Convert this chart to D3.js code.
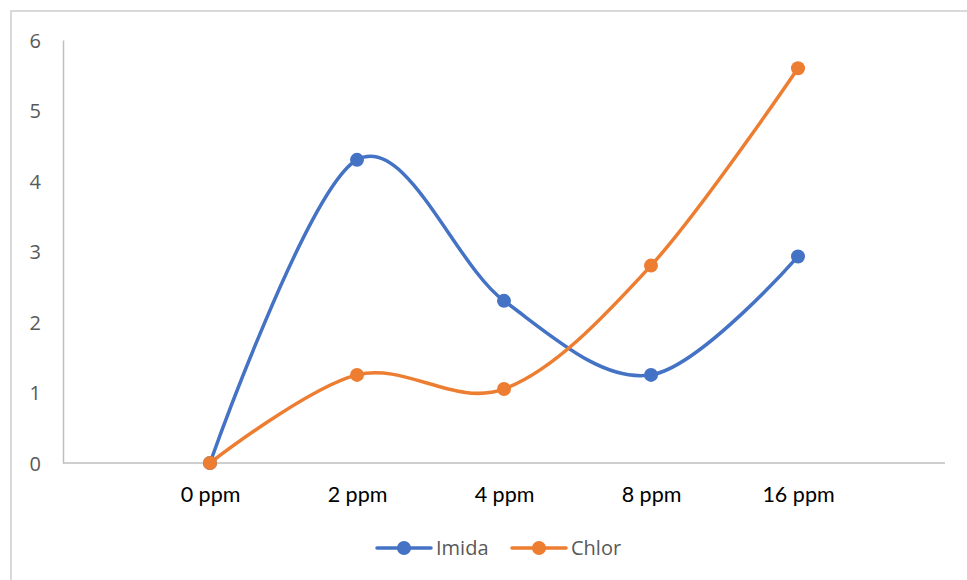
<!DOCTYPE html>
<html>
<head>
<meta charset="utf-8">
<script src="https://cdn.jsdelivr.net/npm/d3@7"></script>
<style>
  html, body { margin: 0; padding: 0; background: #fff; }
  svg { display: block; }
</style>
</head>
<body>
<svg id="chart" width="967" height="580"></svg>
<script>
// Concentrations on the category axis
const categories = ["0 ppm", "2 ppm", "4 ppm", "8 ppm", "16 ppm"];
// Series values per concentration
const imida = [0, 4.3, 2.3, 1.25, 2.93];
const chlor = [0, 1.25, 1.05, 2.8, 5.6];
// Value axis ticks
const yTicks = [0, 1, 2, 3, 4, 5, 6];

const seriesNames = ["Imida", "Chlor"];
const seriesColors = ["#4472C4", "#ED7D31"];
const series = [imida, chlor].map((vals, i) => ({
  name: seriesNames[i],
  color: seriesColors[i],
  points: vals.map((v, j) => ({ cat: categories[j], value: v }))
}));

const svg = d3.select("#chart");

// Chart area frame
svg.append("rect")
  .attr("x", 11).attr("y", 11)
  .attr("width", 980).attr("height", 600)
  .attr("fill", "none")
  .attr("stroke", "#d9d9d9")
  .attr("stroke-width", 2);

const plot = { left: 63, right: 945, top: 40, bottom: 463 };

const x = d3.scalePoint()
  .domain(categories)
  .range([plot.left, plot.right])
  .padding(1);

const y = d3.scaleLinear()
  .domain([0, 6])
  .range([plot.bottom, plot.top]);

// Value axis
const yAxis = d3.axisLeft(y).tickValues(yTicks).tickSize(0).tickPadding(22).tickFormat(d3.format("d"));
const yG = svg.append("g")
  .attr("transform", `translate(${plot.left},0)`)
  .call(yAxis);
yG.select(".domain").attr("stroke", "#bfbfbf").attr("stroke-width", 1.5);
yG.selectAll("text")
  .attr("fill", "#595959")
  .style("font-family", "'Open Sans', sans-serif")
  .style("font-size", "20px")
  .attr("dy", "0.36em");

// Category axis
const xAxis = d3.axisBottom(x).tickSize(0).tickPadding(24);
const xG = svg.append("g")
  .attr("transform", `translate(0,${plot.bottom})`)
  .call(xAxis);
xG.select(".domain")
  .attr("d", `M${plot.left},0H${plot.right}`)
  .attr("stroke", "#bfbfbf").attr("stroke-width", 1.5);
xG.selectAll("text")
  .attr("fill", "#000")
  .style("font-family", "Lato, sans-serif")
  .style("font-size", "21.5px");

// Smoothed lines
const line = d3.line()
  .x(d => x(d.cat))
  .y(d => y(d.value))
  .curve(d3.curveCardinal.tension(0));

const gSeries = svg.append("g");
series.forEach(s => {
  gSeries.append("path")
    .datum(s.points)
    .attr("d", line)
    .attr("fill", "none")
    .attr("stroke", s.color)
    .attr("stroke-width", 3.5)
    .attr("stroke-linecap", "round");
});
series.forEach(s => {
  gSeries.selectAll(null)
    .data(s.points)
    .join("circle")
    .attr("cx", d => x(d.cat))
    .attr("cy", d => y(d.value))
    .attr("r", 7)
    .attr("fill", s.color);
});

// Legend
const legendItems = [
  { name: "Imida", color: seriesColors[0], x0: 377 },
  { name: "Chlor", color: seriesColors[1], x0: 512 }
];
const legendY = 548;
const lg = svg.append("g");
legendItems.forEach(item => {
  lg.append("line")
    .attr("x1", item.x0).attr("x2", item.x0 + 54)
    .attr("y1", legendY).attr("y2", legendY)
    .attr("stroke", item.color).attr("stroke-width", 3.5)
    .attr("stroke-linecap", "round");
  lg.append("circle")
    .attr("cx", item.x0 + 27).attr("cy", legendY)
    .attr("r", 7).attr("fill", item.color);
  lg.append("text")
    .attr("x", item.x0 + 59).attr("y", legendY)
    .attr("dy", "0.36em")
    .attr("fill", "#595959")
    .style("font-family", "'Open Sans', sans-serif")
    .style("font-size", "20px")
    .text(item.name);
});
</script>
</body>
</html>
